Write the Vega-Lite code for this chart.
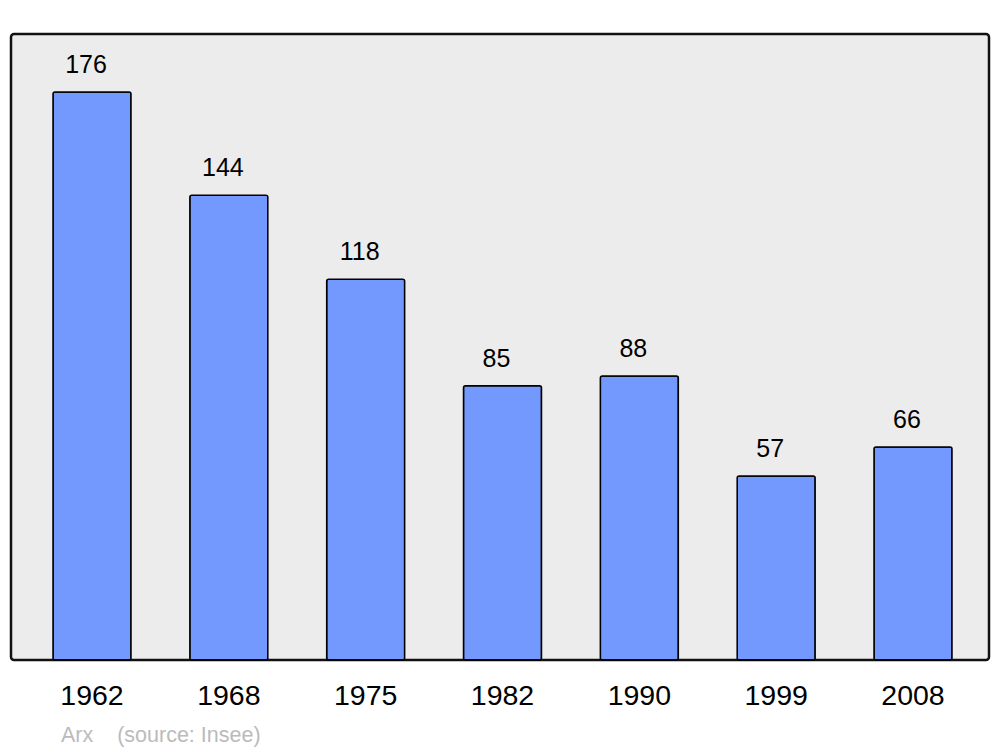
{
  "$schema": "https://vega.github.io/schema/vega-lite/v6.json",
  "width": 978,
  "height": 626,
  "autosize": {"type": "none"},
  "padding": {"left": 11, "top": 34, "right": 11, "bottom": 87},
  "background": "white",
  "config": {
    "view": {"fill": "#ececec", "stroke": "#111111", "strokeWidth": 2.5, "cornerRadius": 3},
    "font": "Liberation Sans"
  },
  "title": {
    "text": "Arx\u00a0\u00a0\u00a0\u00a0(source: Insee)",
    "orient": "bottom",
    "anchor": "start",
    "frame": "group",
    "dx": 50,
    "offset": 15,
    "fontSize": 21.5,
    "fontWeight": "normal",
    "color": "#bbbbbb",
    "font": "Liberation Sans"
  },
  "data": {
    "values": [
      {"year": "1962", "pop": 176},
      {"year": "1968", "pop": 144},
      {"year": "1975", "pop": 118},
      {"year": "1982", "pop": 85},
      {"year": "1990", "pop": 88},
      {"year": "1999", "pop": 57},
      {"year": "2008", "pop": 66}
    ]
  },
  "encoding": {
    "x": {
      "field": "year",
      "type": "nominal",
      "sort": null,
      "scale": {"range": [42, 941], "paddingInner": 0.43, "paddingOuter": 0},
      "axis": {
        "title": null,
        "domain": false,
        "ticks": false,
        "labelAngle": 0,
        "labelFontSize": 28.5,
        "labelColor": "#000000",
        "labelBaseline": "alphabetic",
        "labelPadding": 44,
        "labelFont": "Liberation Sans"
      }
    },
    "y": {
      "field": "pop",
      "type": "quantitative",
      "scale": {"domain": [0, 194], "nice": false, "zero": true},
      "axis": null
    }
  },
  "layer": [
    {
      "mark": {"type": "bar", "fill": "#7399ff", "stroke": "#000000", "strokeWidth": 1.5, "cornerRadius": 2}
    },
    {
      "mark": {"type": "text", "baseline": "alphabetic", "dy": -19, "dx": -6, "fontSize": 25, "color": "#000000", "font": "Liberation Sans"},
      "encoding": {"text": {"field": "pop", "type": "quantitative"}}
    }
  ]
}
